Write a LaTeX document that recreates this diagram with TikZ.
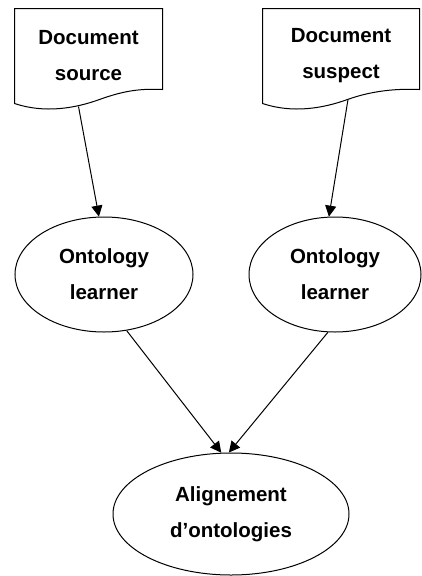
\documentclass[tikz,border=0pt]{standalone}
\usepackage{fontspec}
\setmainfont{Liberation Sans}
\usetikzlibrary{arrows.meta,calc,shapes.geometric}

% outline of a document node: straight top, wavy bottom
\newcommand{\docoutline}[1]{%
  \draw (#1.south west) |- (#1.north east) -- ([yshift=14pt]#1.south east)
    .. controls +(-22,-1) and +(25,-9) .. ($(#1.south west)+(85,-4)$)
    .. controls +(-25,9) and +(30,10) .. (#1.south west) -- cycle;}

\begin{document}
\begin{tikzpicture}[x=1pt,y=-1pt,line width=1pt,
    txt/.style={font=\fontsize{20.5}{36}\selectfont\bfseries, align=center},
    doc/.style={txt, minimum height=94pt, inner sep=0pt},
    oval/.style={txt, draw, ellipse, inner sep=0pt},
    link/.style={-{Triangle[length=11pt,width=11pt]}}]
      \useasboundingbox (0,0) rectangle (422,576);
      \node[doc, minimum width=147pt] (docsrc) at (88.5,56) {Document\\source};
      \node[doc, minimum width=156pt] (docsus) at (341,56) {Document\\suspect};
      \docoutline{docsrc}
      \docoutline{docsus}
      \node[oval, minimum width=178pt, minimum height=115pt] (ontl) at (104,274.5) {Ontology\\learner};
      \node[oval, minimum width=172pt, minimum height=115pt] (ontr) at (335,274.5) {Ontology\\learner};
      \node[oval, minimum width=236pt, minimum height=122pt] (align) at (231,514) {Alignement\\d’ontologies};
      \draw[link] ([xshift=-10pt,yshift=-3pt]docsrc.south) -- (ontl.95);
      \draw[link] ([xshift=7pt,yshift=4pt]docsus.south) -- (ontr.96);
      \draw[link] (ontl.-68) -- (align.99);
      \draw[link] (ontr.-97) -- (align.92);
\end{tikzpicture}
\end{document}
